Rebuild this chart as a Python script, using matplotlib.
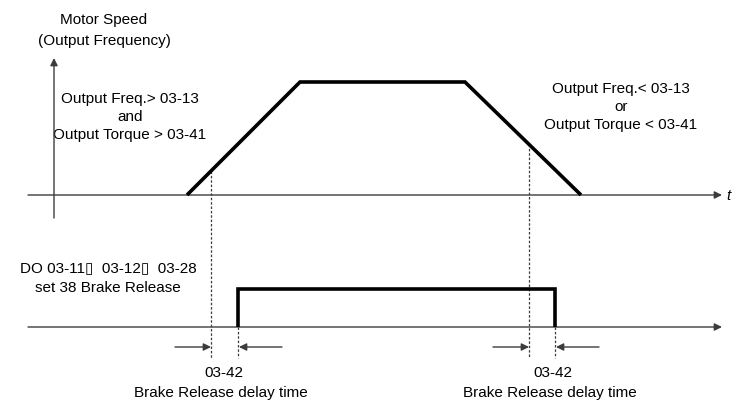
import numpy as np
import matplotlib
matplotlib.use("Agg")
import matplotlib.pyplot as plt

plt.rcParams['font.family'] = ['Liberation Sans', 'DejaVu Sans']

# speed profile: time points and relative speed
speed_t = [187, 300, 465, 581]
speed_level = [0, 1, 1, 0]

# times where the freq/torque condition is reached and lost
cond_t = [211, 529]

# brake release output (DO) after the delay 03-42
brake_t = [238, 238, 555, 555]
brake_level = [0, 1, 1, 0]

W, H = 732, 401
fig = plt.figure(figsize=(W / 100, H / 100), dpi=100)

def layer(base, scale):
    # axes covering the whole figure, level 0 at pixel row `base`
    a = fig.add_axes([0, 0, 1, 1])
    a.set_xlim(0, W)
    a.set_ylim((base - H) / scale, base / scale)
    a.axis("off")
    a.patch.set_alpha(0)
    return a

ax1 = layer(195, 113)   # motor speed
ax2 = layer(327, 38)    # brake release signal
tx = fig.add_axes([0, 0, 1, 1], zorder=-1)
tx.set_xlim(0, W)
tx.set_ylim(H, 0)
tx.axis("off")

ax_col = "#3c3c3c"
arr = dict(arrowstyle="-|>", color=ax_col, lw=1.0, mutation_scale=11,
           shrinkA=0, shrinkB=0)

# speed axes
ax1.annotate("", xy=(54, (195 - 58) / 113), xytext=(54, (195 - 218) / 113),
             arrowprops=arr)
ax1.annotate("", xy=(722, 0), xytext=(28, 0), arrowprops=arr)
ax1.plot(speed_t, speed_level, color="black", lw=2.6, solid_joinstyle="miter",
         solid_capstyle="butt", zorder=3)

# brake axis + pulse
ax2.annotate("", xy=(722, 0), xytext=(28, 0), arrowprops=arr)
ax2.plot(brake_t, brake_level, color="black", lw=2.6, solid_joinstyle="miter",
         solid_capstyle="butt", zorder=3)

# dashed guides
y_bot2 = (327 - 358) / 38
y_bot1 = (195 - 358) / 113
for t in cond_t:
    ax1.plot([t, t], [np.interp(t, speed_t, speed_level), y_bot1],
             color=ax_col, lw=0.9, ls=(0, (2, 1.5)))
for t in sorted(set(brake_t)):
    ax2.plot([t, t], [0, y_bot2], color=ax_col, lw=0.9, ls=(0, (2, 1.5)))

# delay arrows
y_arr = (327 - 347) / 38
for c, b in zip(cond_t, sorted(set(brake_t))):
    ax2.annotate("", xy=(c, y_arr), xytext=(c - 36, y_arr), arrowprops=arr)
    ax2.annotate("", xy=(b + 1, y_arr), xytext=(b + 44, y_arr), arrowprops=arr)

fs = 11
tx.text(104, 20, "Motor Speed", ha="center", va="center", fontsize=fs)
tx.text(104, 41, "(Output Frequency)", ha="center", va="center", fontsize=fs)
tx.text(130, 117, "Output Freq.> 03-13\nand\nOutput Torque > 03-41",
        ha="center", va="center", fontsize=fs, linespacing=1.35)
tx.text(621, 107, "Output Freq.< 03-13\nor\nOutput Torque < 03-41",
        ha="center", va="center", fontsize=fs, linespacing=1.35)
tx.text(728, 196, "t", ha="center", va="center", fontsize=fs, style="italic")
tx.text(108, 268, "DO 03-11\u25af  03-12\u25af  03-28", ha="center", va="center",
        fontsize=fs)
tx.text(108, 288, "set 38 Brake Release", ha="center", va="center", fontsize=fs)
for c in [224, 553]:
    tx.text(c, 373, "03-42", ha="center", va="center", fontsize=fs)
    tx.text(c - 3, 393, "Brake Release delay time", ha="center", va="center",
            fontsize=fs)

fig.savefig("out.png", dpi=100)
